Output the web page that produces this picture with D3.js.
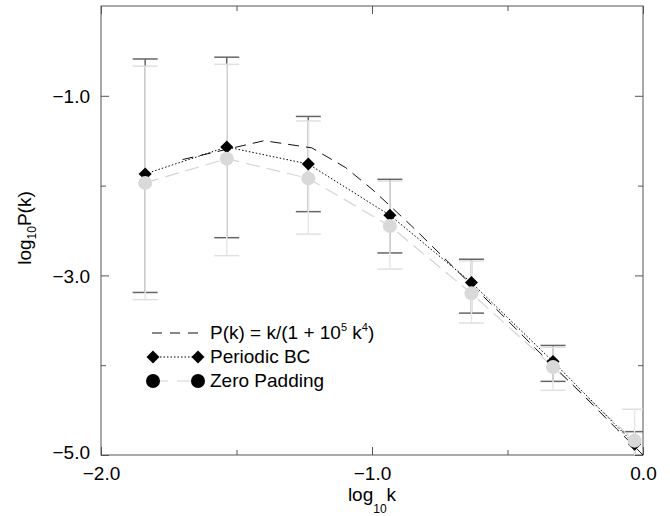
<!DOCTYPE html>
<html>
<head>
<meta charset="utf-8">
<script src="https://cdn.jsdelivr.net/npm/d3@7"></script>
<style>
  body { margin: 0; background: #fff; }
  svg { display: block; font-family: "Liberation Sans", Arial, sans-serif; }
</style>
</head>
<body>
<svg id="chart" width="670" height="516"></svg>
<script>
// log10 k of the measured modes
const logK = [-1.837, -1.536, -1.235, -0.934, -0.633, -0.332, -0.031];

// periodic BC estimate and its error bar ends
const periodic = [-1.87, -1.57, -1.76, -2.33, -3.08, -3.96, -4.88];
const periodicHi = [-0.59, -0.57, -1.23, -1.93, -2.82, -3.78, -4.74];
const periodicLo = [-3.19, -2.58, -2.29, -2.75, -3.42, -4.18, -5.6];

// zero padding estimate and its error bar ends
const zeroPad = [-1.97, -1.70, -1.92, -2.45, -3.20, -4.02, -4.84];
const zeroHi = [-0.67, -0.65, -1.28, -1.95, -2.84, -3.80, -4.49];
const zeroLo = [-3.27, -2.78, -2.54, -2.93, -3.53, -4.28, -5.6];

// dashed model curve
const modelK = [-1.699, -1.398, -1.222, -1.097, -1.0, -0.921, -0.854, -0.796, -0.699, -0.523, -0.398, -0.222, -0.097, 0.0];
const modelP = [-1.71, -1.50, -1.58, -1.80, -2.04, -2.26, -2.45, -2.62, -2.91, -3.43, -3.81, -4.33, -4.71, -5.0];

const xTicks = [-2, -1, 0];
const xMinor = [-1.5, -0.5];
const yTicks = [-5, -3, -1];
const yMinor = [-4, -2];
const legendLabels = ['P(k) = k/(1 + 10', 'Periodic BC', 'Zero Padding'];

const margin = { top: 6, right: 27, bottom: 61, left: 101 };
const width = 670 - margin.left - margin.right;
const height = 516 - margin.top - margin.bottom;

const AXIS = '#555';
const DARK_BAR = '#666';
const LIGHT = '#e0e0e0';

const x = d3.scaleLinear().domain([-2, 0]).range([0, width]);
const y = d3.scaleLinear().domain([-5, 0]).range([height, 0]);

const svg = d3.select('#chart');
const chart = svg.append('g')
  .attr('transform', `translate(${margin.left}, ${margin.top})`);

chart.append('clipPath')
  .attr('id', 'plot-clip')
  .append('rect')
  .attr('width', width)
  .attr('height', height);

const fmt = d => d3.format('.1f')(d).replace('-', '\u2212');

// ticks: major with labels, minor without, all pointing inward
const drawAxis = (axisFn, transform, major, minor, labels, padding) => {
  const gMajor = chart.append('g')
    .attr('transform', transform)
    .call(axisFn.tickValues(major).tickSize(-8).tickSizeOuter(0).tickPadding(padding)
      .tickFormat(labels ? fmt : ''));
  const gMinor = chart.append('g')
    .attr('transform', transform)
    .call(axisFn.tickValues(minor).tickSize(-5).tickSizeOuter(0).tickFormat(''));
  [gMajor, gMinor].forEach(g => {
    g.select('.domain').remove();
    g.selectAll('line').attr('stroke', AXIS);
  });
  gMajor.selectAll('text').attr('fill', '#000').attr('font-size', 19)
    .attr('font-family', '"Liberation Sans", Arial, sans-serif');
  return gMajor;
};

drawAxis(d3.axisBottom(x), `translate(0, ${height})`, xTicks, xMinor, true, 12);
drawAxis(d3.axisTop(x), 'translate(0, 0)', xTicks, xMinor, false, 0);
const yAxisG = drawAxis(d3.axisLeft(y), 'translate(0, 0)', yTicks, yMinor, true, 11);
drawAxis(d3.axisRight(y), `translate(${width}, 0)`, yTicks, yMinor, false, 0);

// the bottom label sits a little higher
yAxisG.selectAll('.tick text')
  .attr('dy', d => d === -5 ? '0.18em' : '0.36em');

// frame
chart.append('rect')
  .attr('width', width)
  .attr('height', height)
  .attr('fill', 'none')
  .attr('stroke', AXIS)
  .attr('stroke-width', 1);

const plot = chart.append('g').attr('clip-path', 'url(#plot-clip)');
const idx = d3.range(logK.length);
const capW = 12.5;

const errorBars = (lo, hi, color, vColor, vWidth) => {
  const g = plot.append('g');
  g.selectAll('line.v')
    .data(idx)
    .enter()
    .append('line')
    .attr('class', 'v')
    .attr('x1', i => x(logK[i]))
    .attr('x2', i => x(logK[i]))
    .attr('y1', i => y(lo[i]))
    .attr('y2', i => y(hi[i]))
    .attr('stroke', vColor)
    .attr('stroke-width', vWidth);
  [lo, hi].forEach(ends => {
    g.selectAll(null)
      .data(idx)
      .enter()
      .append('line')
      .attr('x1', i => x(logK[i]) - capW)
      .attr('x2', i => x(logK[i]) + capW)
      .attr('y1', i => y(ends[i]))
      .attr('y2', i => y(ends[i]))
      .attr('stroke', color)
      .attr('stroke-width', 1.5);
  });
};

errorBars(periodicLo, periodicHi, DARK_BAR, DARK_BAR, 1.5);
errorBars(zeroLo, zeroHi, LIGHT, '#e8e8e8', 1.5);

const line = d3.line().x(d => x(d[0])).y(d => y(d[1]));

plot.append('path')
  .datum(d3.zip(logK, zeroPad))
  .attr('d', line)
  .attr('fill', 'none')
  .attr('stroke', '#d4d4d4')
  .attr('stroke-width', 1.2)
  .attr('stroke-dasharray', '14,7');

plot.append('path')
  .datum(d3.zip(logK, periodic))
  .attr('d', line)
  .attr('fill', 'none')
  .attr('stroke', '#000')
  .attr('stroke-width', 1)
  .attr('stroke-dasharray', '1.5,2');

plot.append('path')
  .datum(d3.zip(modelK, modelP))
  .attr('d', line)
  .attr('fill', 'none')
  .attr('stroke', '#111')
  .attr('stroke-width', 1)
  .attr('stroke-dasharray', '11,7');

const diamond = d3.symbol(d3.symbolSquare, 85);

plot.selectAll('.diamond')
  .data(idx)
  .enter()
  .append('path')
  .attr('class', 'diamond')
  .attr('d', diamond)
  .attr('transform', i => `translate(${x(logK[i])}, ${y(periodic[i])}) rotate(45)`)
  .attr('fill', '#000');

plot.selectAll('.dot')
  .data(idx)
  .enter()
  .append('circle')
  .attr('class', 'dot')
  .attr('cx', i => x(logK[i]))
  .attr('cy', i => y(zeroPad[i]))
  .attr('r', 7)
  .attr('fill', '#d9d9d9');

// legend
const legend = svg.append('g');
const lx1 = 153;
const lx2 = 198;
const rowY = [333, 357, 381];

legend.append('line')
  .attr('x1', lx1 - 1).attr('x2', lx2)
  .attr('y1', rowY[0]).attr('y2', rowY[0])
  .attr('stroke', '#111')
  .attr('stroke-dasharray', '10,8');

legend.append('line')
  .attr('x1', lx1).attr('x2', lx2)
  .attr('y1', rowY[1]).attr('y2', rowY[1])
  .attr('stroke', '#000')
  .attr('stroke-dasharray', '1.5,2');

legend.append('line')
  .attr('x1', lx1).attr('x2', lx2)
  .attr('y1', rowY[2]).attr('y2', rowY[2])
  .attr('stroke', '#d4d4d4')
  .attr('stroke-width', 1.2)
  .attr('stroke-dasharray', '15,9');

[lx1, lx2].forEach(cx => {
  legend.append('path')
    .attr('d', diamond)
    .attr('transform', `translate(${cx}, ${rowY[1]}) rotate(45)`)
    .attr('fill', '#000');
  legend.append('circle')
    .attr('cx', cx)
    .attr('cy', rowY[2])
    .attr('r', 7)
    .attr('fill', '#000');
});

const t0 = legend.append('text')
  .attr('x', 210)
  .attr('y', rowY[0] + 6)
  .attr('font-size', 19)
  .text(legendLabels[0]);
t0.append('tspan').attr('font-size', 11).attr('dy', -8).text('5');
t0.append('tspan').attr('font-size', 19).attr('dy', 8).text(' k');
t0.append('tspan').attr('font-size', 11).attr('dy', -8).text('4');
t0.append('tspan').attr('font-size', 19).attr('dy', 8).text(')');

legendLabels.slice(1).forEach((label, i) => {
  legend.append('text')
    .attr('x', 210)
    .attr('y', rowY[i + 1] + 6)
    .attr('font-size', 19)
    .text(label);
});

// axis titles
const xt = svg.append('text')
  .attr('x', margin.left + x(-1))
  .attr('y', 501)
  .attr('text-anchor', 'middle')
  .attr('font-size', 19)
  .text('log');
xt.append('tspan').attr('font-size', 12).attr('dy', 12).text('10');
xt.append('tspan').attr('font-size', 19).attr('dy', -12).text('k');

const yt = svg.append('text')
  .attr('transform', 'translate(31, 228) rotate(-90)')
  .attr('text-anchor', 'middle')
  .attr('font-size', 19)
  .text('log');
yt.append('tspan').attr('font-size', 12).attr('dy', 5).text('10');
yt.append('tspan').attr('font-size', 19).attr('dy', -5).text('P(k)');
</script>
</body>
</html>
